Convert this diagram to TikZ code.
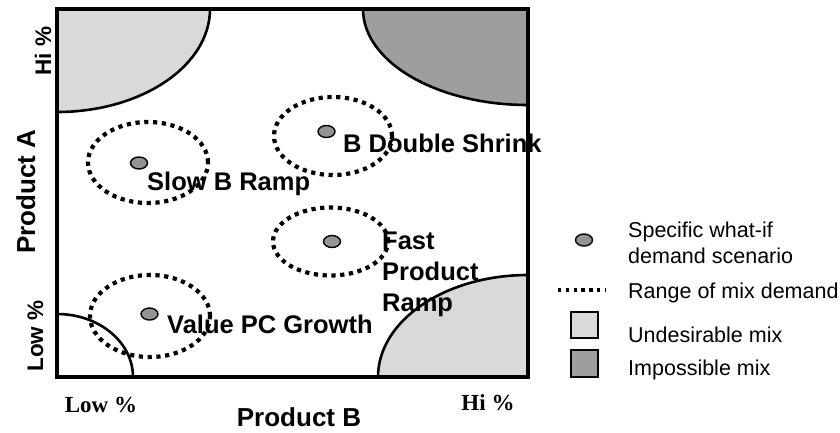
\documentclass[tikz,border=0pt]{standalone}
\usepackage{fontspec}
\usetikzlibrary{shapes.geometric}
\setmainfont{Liberation Sans}
\newfontfamily\timesfont{Liberation Serif}
\begin{document}
\begin{tikzpicture}[x=1pt,y=-1pt,
  frameline/.style={line width=4.5pt},
  zoneline/.style={line width=2.6pt},
  undesirable/.style={fill=black!15},
  impossible/.style={fill=black!38},
  mixrange/.style={line width=4.2pt, dash pattern=on 4.2pt off 4.6pt},
  scenario/.style={ellipse, fill=black!42, draw=black, line width=1.4pt, minimum width=17pt, minimum height=12pt, inner sep=0pt},
  scenlabel/.style={inner sep=0pt, anchor=base west, font=\fontsize{25.5}{30}\selectfont\bfseries},
  axisname/.style={inner sep=0pt, anchor=base, font=\fontsize{26}{30}\selectfont\bfseries},
  axistick/.style={inner sep=0pt, anchor=base, font=\fontsize{22.5}{27}\selectfont\bfseries},
  seriftick/.style={inner sep=0pt, anchor=base, font=\fontsize{23}{27}\selectfont\timesfont\bfseries},
  legendtext/.style={inner sep=0pt, anchor=base west, font=\fontsize{21.5}{25}\selectfont},
  legendbox/.style={draw=black, line width=1.5pt}]
\useasboundingbox (0,0) rectangle (840,432);

% corner zones of the mix plane
\fill[undesirable] (57,9) -- (210,9) .. controls (210,65.9) and (141.5,112) .. (57,112) -- cycle;
\draw[zoneline] (210,9) .. controls (210,65.9) and (141.5,112) .. (57,112);
\fill[impossible] (528,9) -- (363,9) .. controls (363,62) and (436.9,105) .. (528,105) -- cycle;
\draw[zoneline] (363,9) .. controls (363,62) and (436.9,105) .. (528,105);
\fill[undesirable] (528,377) -- (378,377) .. controls (378,320.7) and (445.2,275) .. (528,275) -- cycle;
\draw[zoneline] (378,377) .. controls (378,320.7) and (445.2,275) .. (528,275);
\draw[zoneline] (57,314) .. controls (99,314) and (133,342.2) .. (133,377);

% plane frame
\draw[frameline] (57,9) rectangle (528,377);

% ranges of mix demand
\draw[mixrange] (148,162.5) ellipse [x radius=60pt, y radius=40.5pt];
\draw[mixrange] (333,136) ellipse [x radius=59pt, y radius=39pt];
\draw[mixrange] (330.5,241.5) ellipse [x radius=57.5pt, y radius=34pt];
\draw[mixrange] (150,316) ellipse [x radius=60pt, y radius=41pt];

% specific scenarios
\node[scenario] (s1) at (139,163) {};
\node[scenario] (s2) at (326.5,131.5) {};
\node[scenario] (s3) at (332,241.5) {};
\node[scenario] (s4) at (149.5,314) {};

% scenario names
\node[scenlabel] (n1) at (147,190) {Slow B Ramp};
\node[scenlabel] (n2) at (343,152) {B Double Shrink};
\node[scenlabel] (n3a) at (382,249) {Fast};
\node[scenlabel] (n3b) at (382,280) {Product};
\node[scenlabel] (n3c) at (382,311) {Ramp};
\node[scenlabel] (n4) at (167,333) {Value PC Growth};

% axes
\node[axisname, rotate=90] (ya) at (35,191.5) {Product A};
\node[axistick, rotate=90] (yhi) at (51,51) {Hi \%};
\node[axistick, rotate=90] (ylo) at (43,336) {Low \%};
\node[axisname] (xb) at (299,426) {Product B};
\node[seriftick] (xlo) at (101,412) {Low \%};
\node[seriftick] (xhi) at (488,410) {Hi \%};

% legend
\node[scenario] (ldot) at (584,240) {};
\node[legendtext] (l1) at (628,237) {Specific what-if};
\node[legendtext] (l1b) at (628,263) {demand scenario};
\coordinate (lr1) at (558,290);
\coordinate (lr2) at (606,290);
\draw[mixrange, line width=3.4pt, dash pattern=on 3.4pt off 4.4pt] (lr1) -- (lr2);
\node[legendtext] (l2) at (628,298) {Range of mix demand};
\draw[legendbox, undesirable] (571,312) rectangle (598,338);
\node[legendtext] (l3) at (628,342) {Undesirable mix};
\draw[legendbox, impossible] (571,350) rectangle (598,377);
\node[legendtext] (l4) at (628,375) {Impossible mix};
\end{tikzpicture}
\end{document}
